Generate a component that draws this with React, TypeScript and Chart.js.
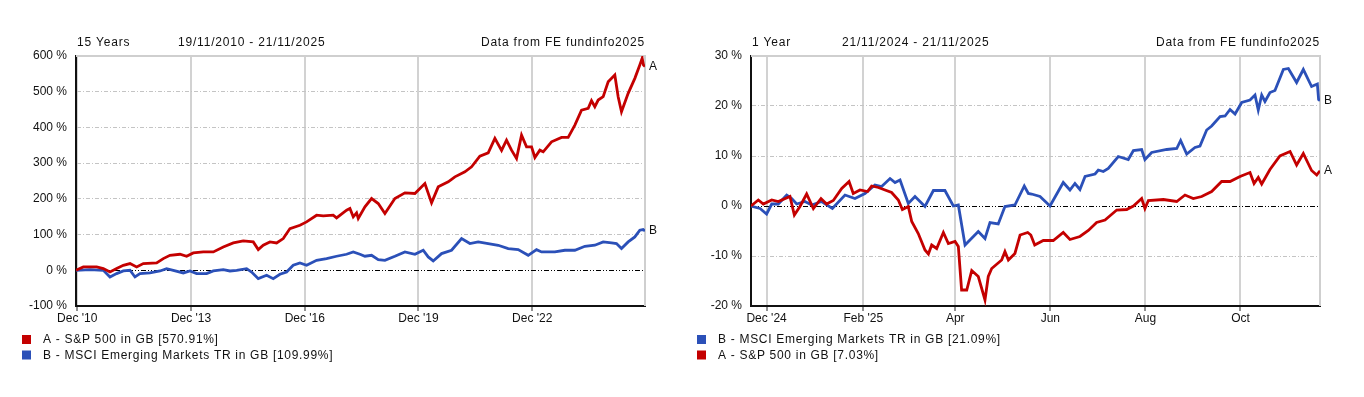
import React, { useEffect, useRef } from "react";
import { Chart, registerables } from "chart.js";

Chart.register(...registerables);

const RED = "#c40000";
const BLUE = "#2b50b8";
const FONT = "'Liberation Sans', Arial, sans-serif";

// ---------- 15 years: x = years since 19/11/2010 ----------
const spYears15 = [0, 0.193, 0.545, 0.721, 0.896, 1.072, 1.248, 1.424, 1.599, 1.775, 2.127, 2.302, 2.478, 2.742, 2.918, 3.093, 3.357, 3.621, 3.884, 4.148, 4.411, 4.675, 4.807, 4.938, 5.114, 5.29, 5.466, 5.642, 5.906, 6.081, 6.345, 6.521, 6.784, 6.872, 7.136, 7.224, 7.312, 7.4, 7.444, 7.62, 7.795, 7.971, 8.147, 8.41, 8.674, 8.938, 9.201, 9.377, 9.553, 9.817, 9.992, 10.256, 10.432, 10.651, 10.871, 11.047, 11.223, 11.354, 11.486, 11.618, 11.75, 11.882, 12.014, 12.102, 12.233, 12.321, 12.541, 12.805, 12.98, 13.156, 13.332, 13.508, 13.595, 13.683, 13.771, 13.903, 14.035, 14.21, 14.298, 14.386, 14.562, 14.738, 14.869, 14.931, 14.966, 15.006];
const spReturns15 = [0, 9.3, 9.3, 4.7, -4.7, 4.7, 14, 18.7, 9.3, 18.7, 20.6, 32.7, 42, 44.9, 39.3, 48.6, 51.4, 51.4, 65.4, 76.6, 82.2, 79.4, 57.9, 70.1, 79.4, 76.6, 88.8, 116.8, 126.2, 135.5, 154.2, 152.3, 154.2, 146.7, 168.2, 172.9, 149.5, 160.7, 144.9, 177.6, 200.9, 186.9, 158.9, 200.9, 216.8, 215, 243, 188.8, 233.6, 247.7, 261.7, 275.7, 289.7, 319.6, 329, 369.2, 335.5, 364.5, 336.4, 313.1, 378.5, 345.8, 345.8, 315.9, 336.4, 331.8, 359.8, 372, 372, 406.5, 448.6, 453.3, 474.8, 458, 476.6, 486, 528, 546.7, 486, 443.9, 495.3, 537.4, 574.8, 593.5, 574.8, 570.91];
const emYears15 = [0, 0.369, 0.721, 0.896, 1.072, 1.248, 1.424, 1.555, 1.687, 1.951, 2.215, 2.39, 2.566, 2.83, 3.005, 3.181, 3.445, 3.621, 3.884, 4.06, 4.236, 4.499, 4.631, 4.807, 5.027, 5.202, 5.378, 5.554, 5.729, 5.906, 6.081, 6.345, 6.609, 6.872, 7.136, 7.312, 7.488, 7.62, 7.795, 7.971, 8.147, 8.41, 8.674, 8.938, 9.157, 9.289, 9.421, 9.641, 9.904, 10.168, 10.388, 10.607, 10.871, 11.135, 11.398, 11.662, 11.926, 12.145, 12.277, 12.629, 12.893, 13.156, 13.42, 13.683, 13.903, 14.123, 14.254, 14.386, 14.562, 14.738, 14.869, 14.957, 15.006];
const emReturns15 = [0, 1.9, 0, -18.7, -9.3, -1.9, 0, -18.7, -9.3, -7.5, -1.9, 4.7, 0, -7.5, -1.9, -9.3, -9.3, -1.9, 1.9, -1.9, 0, 4.7, -4.7, -23.4, -14, -23.4, -11.2, -4.7, 14, 20.6, 14, 28, 32.7, 39.3, 44.9, 51.4, 44.9, 39.3, 42, 29.9, 28, 39.3, 51.4, 44.9, 56.1, 37.4, 26.2, 46.7, 56.1, 88.8, 74.8, 79.4, 74.8, 70.1, 60.7, 57.9, 42, 57.9, 51.4, 51.4, 56.1, 56.1, 67.3, 70.1, 79.4, 76.6, 74.8, 60.7, 79.4, 93.5, 112.1, 114, 109.99];
const tickPos15 = [0.033, 3.034, 6.034, 9.032, 12.033];
const tickLabels15 = ["Dec '10", "Dec '13", "Dec '16", "Dec '19", "Dec '22"];

// ---------- 1 year: x = days since 21/11/2024 ----------
const spDays1 = [0, 4.7, 7.9, 13.3, 17.5, 25, 27.8, 31.4, 35.7, 40, 44.9, 48.5, 52.8, 58.2, 62.9, 65.6, 69.9, 74.8, 77.4, 81.7, 90.2, 94.5, 97.1, 100.9, 103.1, 107.3, 111.6, 113.8, 115.9, 119.1, 123.4, 126.6, 130.9, 133, 135.1, 138.4, 141.6, 145.8, 150.1, 152.2, 154.4, 160.8, 162.9, 165.1, 169.3, 172.6, 177.5, 179.5, 182, 187.5, 193.9, 200.3, 204.6, 211, 216.4, 221.7, 227.1, 234.6, 241, 245.3, 250.6, 252.7, 254.9, 264.5, 273.1, 278.4, 283.7, 289.1, 295.5, 301.9, 307.3, 313.7, 320.1, 322.7, 325.4, 327.6, 332.9, 339.3, 345.8, 350, 354.3, 359.6, 362.9, 364.1, 365];
const spReturns1 = [0, 1.2, 0.4, 1.2, 0.9, 1.9, -1.8, -0.1, 2.4, -0.5, 1.5, 0.4, 1.1, 3.5, 4.9, 2.5, 3.2, 2.9, 4, 3.7, 2.7, 1.2, -0.7, -0.1, -3.1, -5.5, -8.8, -9.6, -7.8, -8.5, -5.3, -7.5, -7.1, -8.1, -16.8, -16.8, -12.9, -14.1, -18.8, -14.1, -12.5, -10.8, -9.1, -10.8, -9.5, -5.8, -5.3, -5.8, -7.8, -6.9, -6.9, -5.3, -6.7, -6.1, -4.9, -3.3, -2.8, -0.8, -0.7, 0, 1.5, -0.5, 1.1, 1.3, 0.9, 2.2, 1.5, 1.9, 2.9, 4.9, 4.9, 5.9, 6.7, 4.5, 5.7, 4.4, 7.3, 10, 10.9, 8.2, 10.5, 7.1, 6.2, 6.7, 7.03];
const emDays1 = [0, 5.8, 10, 13.3, 17.5, 22.9, 26.1, 29.3, 34.6, 38.9, 45.3, 52.2, 60.3, 66.7, 73.1, 79.5, 83.8, 89.2, 92.4, 95.6, 100.9, 105.2, 111.6, 117, 124.4, 129.8, 133, 137.3, 145.8, 150.1, 153.3, 158.6, 162.9, 169.3, 175.3, 177.9, 180, 185.4, 191.8, 200.3, 204.6, 207.8, 211, 214.3, 220.7, 222.8, 226, 229.2, 235.6, 242, 245.3, 250.6, 252.7, 257, 266.7, 273.1, 275.6, 279.5, 284.8, 288, 292.3, 295.5, 300.9, 304.1, 307.3, 310.5, 314.8, 320.1, 323.3, 325.4, 327.6, 329.7, 332.9, 336.1, 341.5, 344.7, 350, 354.3, 359.6, 361.8, 363.3, 364.1, 365];
const emReturns1 = [0, -0.5, -1.6, 0.4, 0.4, 2.2, 1.5, 0.4, 0.9, 0.2, 0.9, -0.5, 2.2, 1.5, 2.5, 4.2, 3.9, 5.5, 4.7, 5.2, 0.5, 1.9, -0.1, 3.1, 3.1, 0, 0.2, -7.8, -5.1, -6.5, -3.3, -3.6, -0.1, 0.2, 4, 2.5, 2.4, 1.9, 0, 4.7, 3.2, 4.5, 3.3, 5.9, 6.4, 7.2, 6.9, 7.5, 9.9, 9.3, 11.1, 11.3, 9.3, 10.7, 11.3, 11.5, 13.1, 10.4, 11.7, 12, 15.2, 16, 17.9, 18, 19.3, 18.4, 20.7, 21.2, 22.2, 19.2, 22.2, 20.9, 22.7, 23.1, 27.3, 27.5, 24.7, 27.3, 23.9, 24.2, 24.4, 21.3, 21.09];
const tickPos1 = [10, 72, 131, 192, 253, 314];
const tickLabels1 = ["Dec '24", "Feb '25", "Apr", "Jun", "Aug", "Oct"];

type Series = { name: string; xs: number[]; ys: number[]; color: string; tag: string };
type Cfg = {
  left: number;
  width: number;
  axisW: number;
  rightPad: number;
  period: string;
  range: string;
  rangeOffset: number;
  series: Series[];
  legend: number[];
  legendSquareX: number;
  legendTextX: number;
  xMax: number;
  tickPos: number[];
  tickLabels: string[];
  yMin: number;
  yMax: number;
  yStep: number;
};

const H = 397;

function makeOverlay(cfg: Cfg) {
  return {
    id: "overlay",
    beforeDatasetsDraw(chart: any) {
      const { ctx, chartArea: a } = chart;
      const y0 = Math.round(chart.scales.y.getPixelForValue(0)) + 0.5;
      ctx.save();
      ctx.strokeStyle = "#cfcfcf";
      ctx.lineWidth = 2;
      ctx.beginPath();
      ctx.moveTo(a.left, a.top);
      ctx.lineTo(a.right, a.top);
      ctx.lineTo(a.right, a.bottom);
      ctx.stroke();
      ctx.strokeStyle = "#000";
      ctx.lineWidth = 1.2;
      ctx.setLineDash([5, 2, 1, 2, 1, 2]);
      ctx.beginPath();
      ctx.moveTo(a.left, y0);
      ctx.lineTo(a.right, y0);
      ctx.stroke();
      ctx.restore();
    },
    afterDraw(chart: any) {
      const { ctx, chartArea: a } = chart;
      ctx.save();
      ctx.fillStyle = "#111";
      ctx.font = `12px ${FONT}`;
      ctx.textBaseline = "middle";
      (ctx as any).letterSpacing = "0.8px";
      ctx.textAlign = "left";
      ctx.fillText(cfg.period, a.left + 1, 43);
      ctx.fillText(cfg.range, a.left + cfg.rangeOffset, 43);
      ctx.textAlign = "right";
      ctx.fillText("Data from FE fundinfo2025", a.right, 43);
      (ctx as any).letterSpacing = "0px";
      ctx.textAlign = "left";
      cfg.series.forEach((s) => {
        const yv = s.ys[s.ys.length - 1];
        const py = chart.scales.y.getPixelForValue(yv);
        ctx.fillText(s.tag, a.right + 4, py);
      });
      (ctx as any).letterSpacing = "0.7px";
      cfg.legend.forEach((idx, i) => {
        const s = cfg.series[idx];
        const cy = 340 + i * 15.5;
        ctx.fillStyle = s.color;
        ctx.fillRect(cfg.legendSquareX, cy - 5, 9, 9);
        ctx.fillStyle = "#111";
        ctx.fillText(s.name, cfg.legendTextX, cy);
      });
      ctx.restore();
    },
  };
}

function ChartBox({ cfg }: { cfg: Cfg }) {
  const ref = useRef<HTMLCanvasElement | null>(null);
  useEffect(() => {
    if (!ref.current) return;
    const chart = new Chart(ref.current, {
      type: "line",
      data: {
        datasets: cfg.series.map((s) => ({
          label: s.name,
          data: s.xs.map((x, i) => ({ x, y: s.ys[i] })),
          borderColor: s.color,
          backgroundColor: s.color,
          borderWidth: 2.8,
          pointRadius: 0,
          tension: 0,
          fill: false,
        })),
      },
      options: {
        animation: false,
        responsive: false,
        maintainAspectRatio: false,
        layout: { padding: { top: 56, right: cfg.rightPad, left: 0, bottom: 0 } },
        plugins: { legend: { display: false }, tooltip: { enabled: false } },
        scales: {
          x: {
            type: "linear",
            min: 0,
            max: cfg.xMax,
            afterBuildTicks: (axis: any) => {
              axis.ticks = cfg.tickPos.map((v) => ({ value: v }));
            },
            afterFit: (axis: any) => {
              axis.height = H - 306;
            },
            ticks: {
              autoSkip: false,
              maxRotation: 0,
              padding: 0,
              color: "#111",
              font: { size: 12, family: FONT },
              callback: (_v: any, i: number) => cfg.tickLabels[i],
            },
            grid: {
              color: "#d2d2d2",
              lineWidth: 2,
              tickLength: 5,
              tickColor: "#222",
              tickWidth: 1,
            },
            border: { color: "#111", width: 2 },
          },
          y: {
            type: "linear",
            min: cfg.yMin,
            max: cfg.yMax,
            afterFit: (axis: any) => {
              axis.width = cfg.axisW;
            },
            ticks: {
              stepSize: cfg.yStep,
              padding: 9,
              color: "#111",
              font: { size: 12, family: FONT },
              callback: (v: any) => `${v} %`,
            },
            grid: {
              color: (c: any) => (c.tick && c.tick.value === 0 ? "rgba(0,0,0,0)" : "#c4c4c4"),
              lineWidth: 1,
              drawTicks: false,
            },
            border: { color: "#111", width: 2, dash: [4, 2, 1, 2] },
          },
        },
      } as any,
      plugins: [makeOverlay(cfg)],
    });
    return () => chart.destroy();
  }, [cfg]);
  return (
    <canvas
      ref={ref}
      width={cfg.width}
      height={H}
      style={{ position: "absolute", left: cfg.left, top: 0, width: cfg.width, height: H }}
    />
  );
}

const leftCfg: Cfg = {
  left: 0,
  width: 680,
  axisW: 76,
  rightPad: 35,
  period: "15 Years",
  range: "19/11/2010 - 21/11/2025",
  rangeOffset: 102,
  series: [
    { name: "A - S&P 500 in GB [570.91%]", xs: spYears15, ys: spReturns15, color: RED, tag: "A" },
    { name: "B - MSCI Emerging Markets TR in GB [109.99%]", xs: emYears15, ys: emReturns15, color: BLUE, tag: "B" },
  ],
  legend: [0, 1],
  legendSquareX: 22,
  legendTextX: 43,
  xMax: 15.006,
  tickPos: tickPos15,
  tickLabels: tickLabels15,
  yMin: -100,
  yMax: 600,
  yStep: 100,
};

const rightCfg: Cfg = {
  left: 680,
  width: 684,
  axisW: 71,
  rightPad: 44,
  period: "1 Year",
  range: "21/11/2024 - 21/11/2025",
  rangeOffset: 91,
  series: [
    { name: "A - S&P 500 in GB [7.03%]", xs: spDays1, ys: spReturns1, color: RED, tag: "A" },
    { name: "B - MSCI Emerging Markets TR in GB [21.09%]", xs: emDays1, ys: emReturns1, color: BLUE, tag: "B" },
  ],
  legend: [1, 0],
  legendSquareX: 17,
  legendTextX: 38,
  xMax: 365,
  tickPos: tickPos1,
  tickLabels: tickLabels1,
  yMin: -20,
  yMax: 30,
  yStep: 10,
};

export default function App() {
  return (
    <div style={{ position: "absolute", left: 0, top: 0, width: 1364, height: H, background: "#fff" }}>
      <ChartBox cfg={leftCfg} />
      <ChartBox cfg={rightCfg} />
    </div>
  );
}
